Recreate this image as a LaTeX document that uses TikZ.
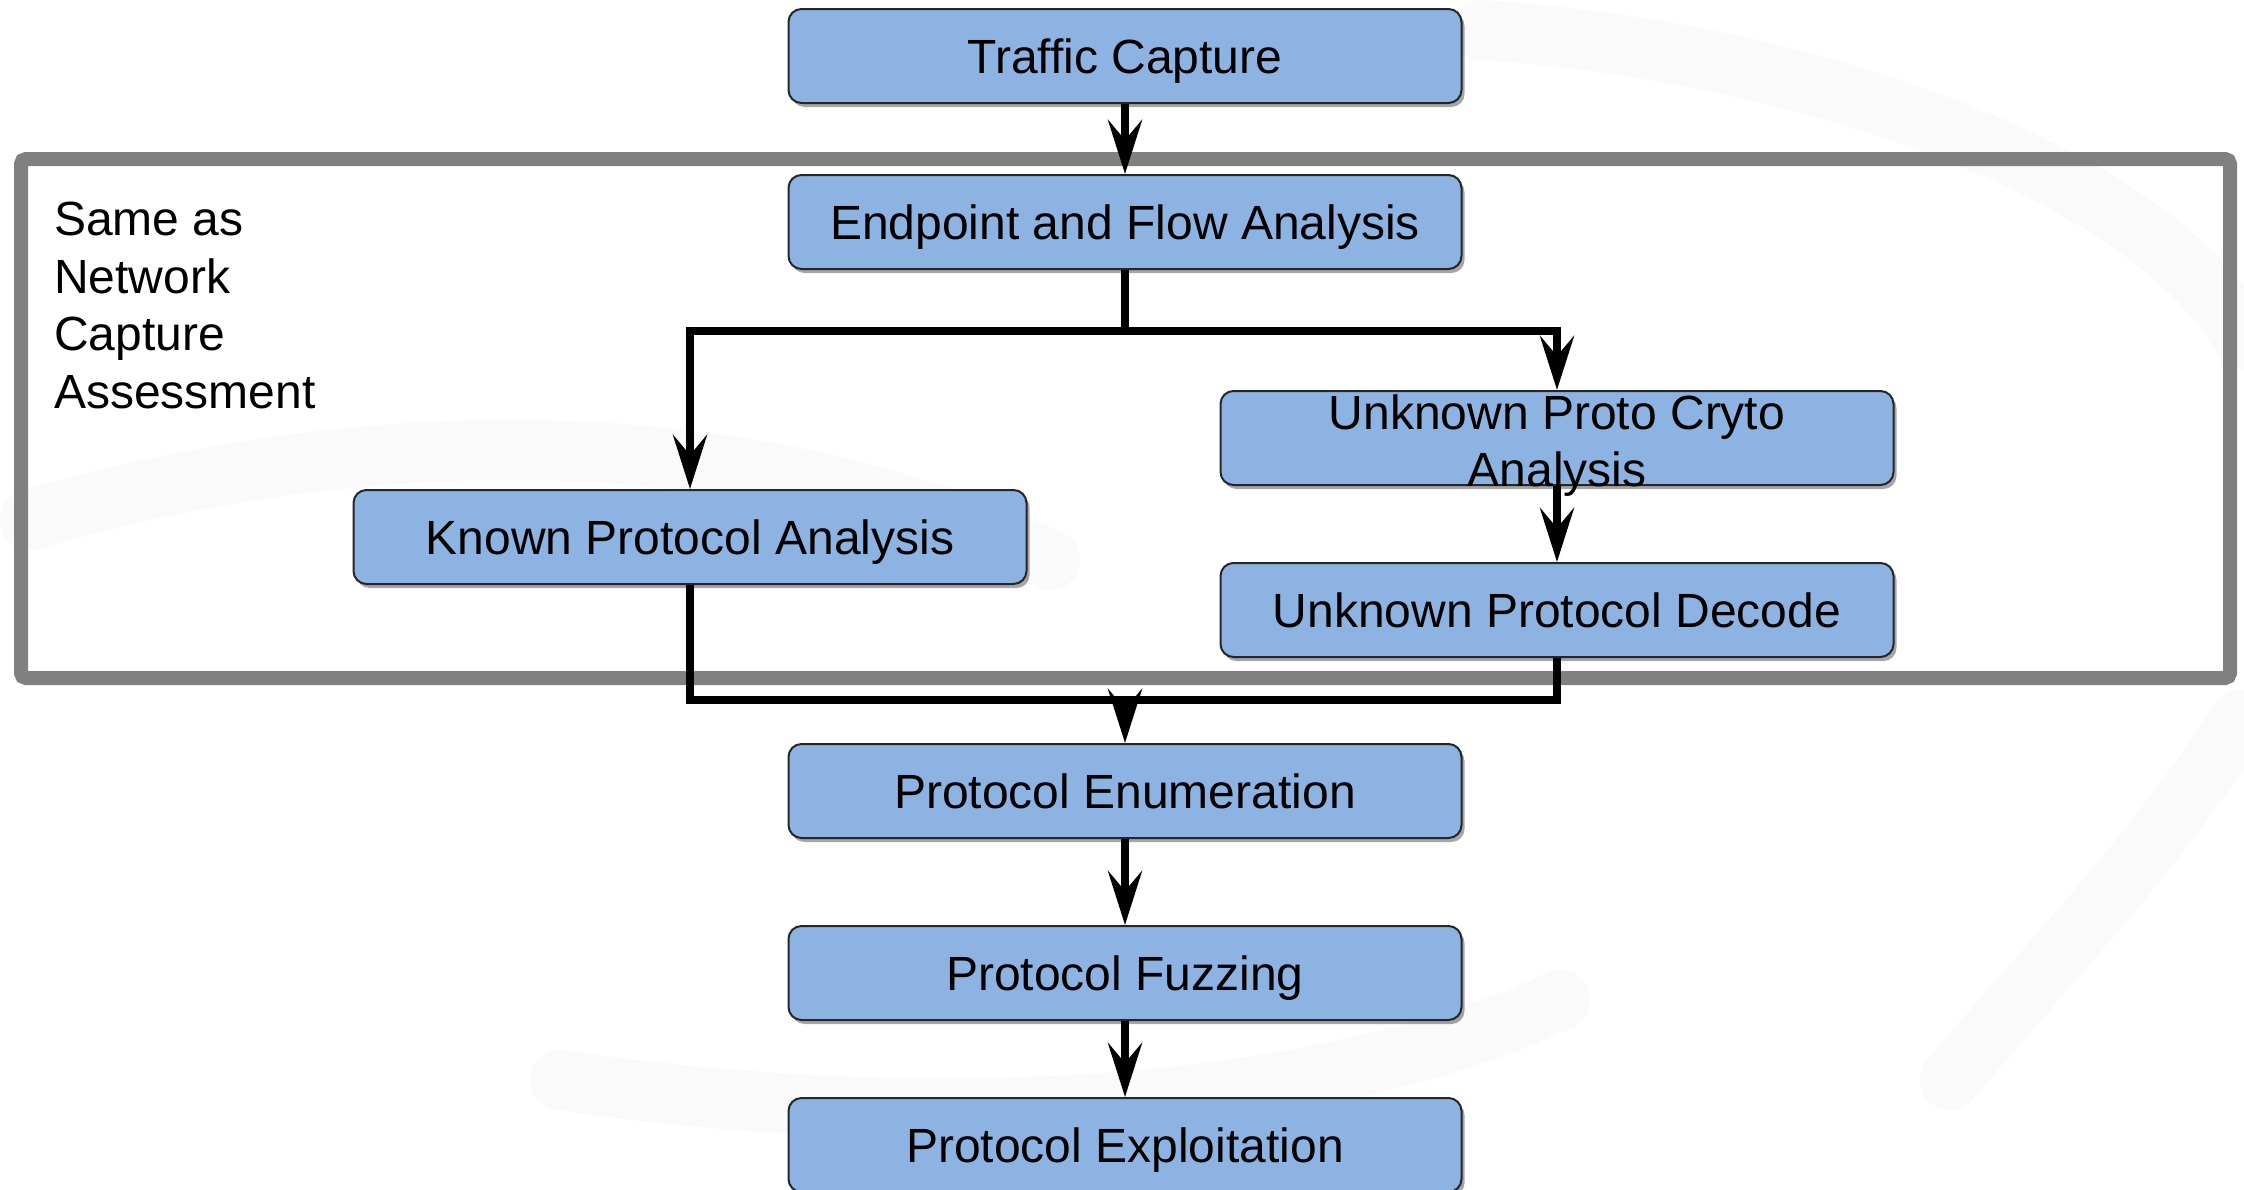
\documentclass[tikz,border=0pt]{standalone}
\usepackage{fontspec}
\setmainfont{Liberation Sans}
\usetikzlibrary{arrows.meta,shadows,calc}
\definecolor{boxfill}{RGB}{141,179,226}
\definecolor{framegray}{RGB}{128,128,128}
\definecolor{wmark}{RGB}{250,250,250}
\begin{document}
\begin{tikzpicture}[x=1pt,y=-1pt,
  stepbox/.style={draw=black!85, line width=2pt, fill=boxfill, rounded corners=13pt,
    minimum width=673pt, minimum height=94pt, inner sep=0pt,
    text height=34pt, text depth=0pt,
    font=\fontsize{48}{57}\selectfont,
    drop shadow={shadow xshift=3pt, shadow yshift=-4pt, fill=black, opacity=0.35}},
  conn/.style={line width=8pt, draw=black},
  arr/.style={conn, -{Stealth[length=54pt, width=34pt, inset=20pt]}}]
\useasboundingbox (0,0) rectangle (2244,1189);
\fill[white] (0,0) rectangle (2244,1189);
% faint watermark
\begin{scope}[draw=wmark, line width=60pt, line cap=round]
  \draw (1480,30) .. controls (1800,50) and (2150,170) .. (2244,340);
  \draw (30,520) .. controls (300,440) and (700,400) .. (1050,560);
  \draw (560,1080) .. controls (900,1130) and (1300,1120) .. (1560,1000);
  \draw (2240,720) .. controls (2150,860) and (2050,960) .. (1950,1080);
\end{scope}
% frame
\draw[framegray, line width=14pt, rounded corners=5pt] (21,159) rectangle (2230,678);
% nodes
\node[stepbox] (tc) at (1125,56) {Traffic Capture};
\node[stepbox] (ep) at (1125,222) {Endpoint and Flow Analysis};
\node[stepbox] (kn) at (690,537) {Known Protocol Analysis};
\node[stepbox] (uc) at (1557,438) {};
\node[font=\fontsize{48}{57}\selectfont, align=center, inner sep=0pt] (uctext) at (1557,446) {Unknown Proto Cryto\\Analysis};
\node[stepbox] (ud) at (1557,610) {Unknown Protocol Decode};
\node[stepbox] (en) at (1125,791) {Protocol Enumeration};
\node[stepbox] (fz) at (1125,973) {Protocol Fuzzing};
\node[stepbox] (ex) at (1125,1145) {Protocol Exploitation};
\node[font=\fontsize{48}{57.5}\selectfont, align=left, anchor=north west, inner sep=0pt] (note) at (54,202)
  {Same as\\Network\\Capture\\Assessment};
% connectors
\coordinate (sy) at (1125,331);
\coordinate (my) at (1125,700);
\draw[arr] (tc.south) -- (ep.north);
\draw[conn] (ep.south) -- (sy);
\draw[arr] (sy) -| (kn.north);
\draw[arr] (sy) -| (uc.north);
\draw[arr] (uc.south) -- (ud.north);
\draw[conn] (kn.south) |- (my);
\draw[conn] (ud.south) |- (my);
\draw[arr] (my) -- (en.north);
\draw[arr] (en.south) -- (fz.north);
\draw[arr] (fz.south) -- (ex.north);
\end{tikzpicture}
\end{document}
